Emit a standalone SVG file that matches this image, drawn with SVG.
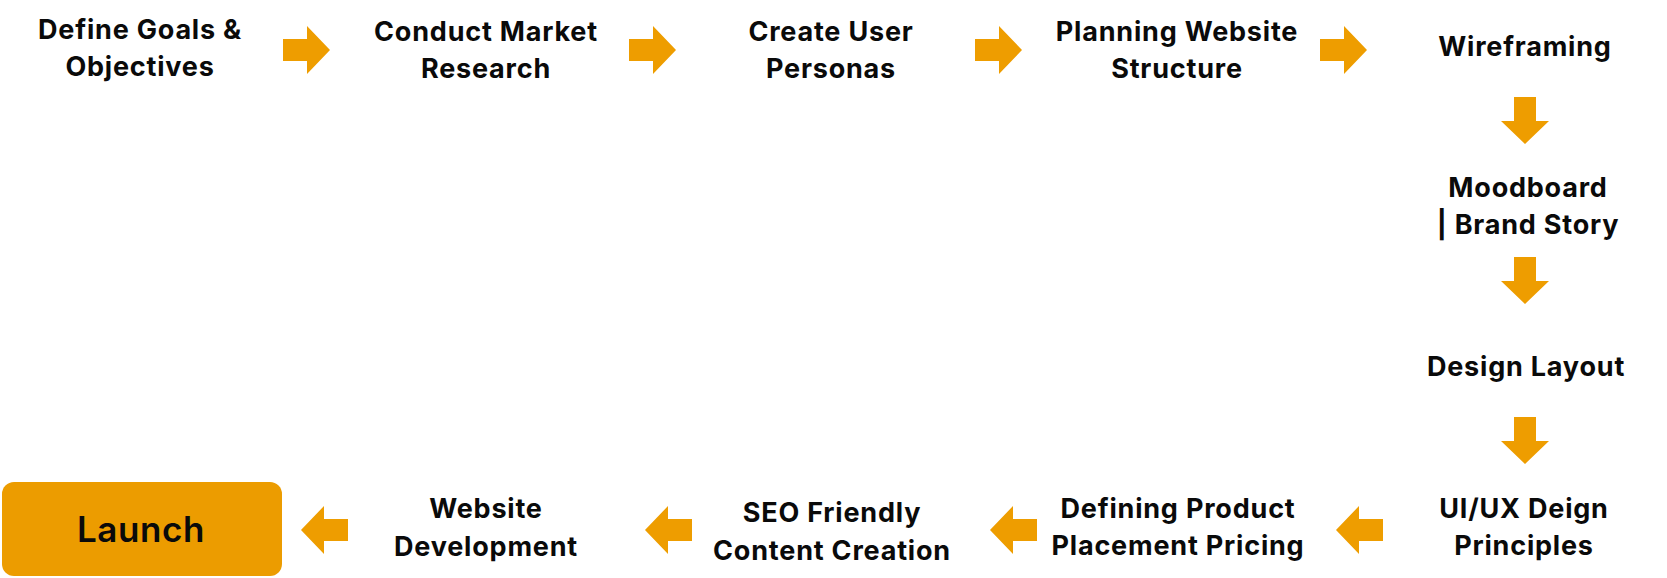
<svg xmlns="http://www.w3.org/2000/svg" xmlns:xlink="http://www.w3.org/1999/xlink" width="1667" height="578" viewBox="0 0 1667 578">
<style>
.t{font-family:Inter,"Liberation Sans",sans-serif;font-weight:700;font-size:27px;letter-spacing:0.8px;fill:#0a0a0a;text-anchor:middle;dominant-baseline:central}
.arr{fill:#EE9D00}
</style>
<defs>
<path id="ar" d="M-23,-11 H1 V-24 L24,0 L1,24 V11 H-23 Z"/>
</defs>
<rect width="1667" height="578" fill="#ffffff"/>
<g id="connectors" class="arr">
<use xlink:href="#ar" transform="translate(306,50)"/>
<use xlink:href="#ar" transform="translate(652,50)"/>
<use xlink:href="#ar" transform="translate(998,50)"/>
<use xlink:href="#ar" transform="translate(1343,50)"/>
<use xlink:href="#ar" transform="translate(1525,120) rotate(90)"/>
<use xlink:href="#ar" transform="translate(1525,280) rotate(90)"/>
<use xlink:href="#ar" transform="translate(1525,440) rotate(90)"/>
<use xlink:href="#ar" transform="translate(1360,530) rotate(180)"/>
<use xlink:href="#ar" transform="translate(1014,530) rotate(180)"/>
<use xlink:href="#ar" transform="translate(669,530) rotate(180)"/>
<use xlink:href="#ar" transform="translate(325,530) rotate(180)"/>
</g>
<g id="n1"><text class="t" x="140" y="29">Define Goals &amp;</text><text class="t" x="140" y="66">Objectives</text></g>
<g id="n2"><text class="t" x="486" y="31">Conduct Market</text><text class="t" x="486" y="68">Research</text></g>
<g id="n3"><text class="t" x="831" y="31">Create User</text><text class="t" x="831" y="68">Personas</text></g>
<g id="n4"><text class="t" x="1177" y="31">Planning Website</text><text class="t" x="1177" y="68">Structure</text></g>
<g id="n5"><text class="t" x="1525" y="46">Wireframing</text></g>
<g id="n6"><text class="t" x="1528" y="187">Moodboard</text><text class="t" x="1528" y="224">| Brand Story</text></g>
<g id="n7"><text class="t" x="1526" y="366">Design Layout</text></g>
<g id="n8"><text class="t" x="1524" y="508">UI/UX Deign</text><text class="t" x="1524" y="545">Principles</text></g>
<g id="n9"><text class="t" x="1178" y="508">Defining Product</text><text class="t" x="1178" y="545">Placement Pricing</text></g>
<g id="n10"><text class="t" x="832" y="512">SEO Friendly</text><text class="t" x="832" y="550">Content Creation</text></g>
<g id="n11"><text class="t" x="486" y="508">Website</text><text class="t" x="486" y="546">Development</text></g>
<g id="n12"><rect x="2" y="482" width="280" height="94" rx="12" fill="#EC9C00"/><text class="t" x="141" y="529" style="font-size:35px;font-weight:600;letter-spacing:0.6px">Launch</text></g>
</svg>
